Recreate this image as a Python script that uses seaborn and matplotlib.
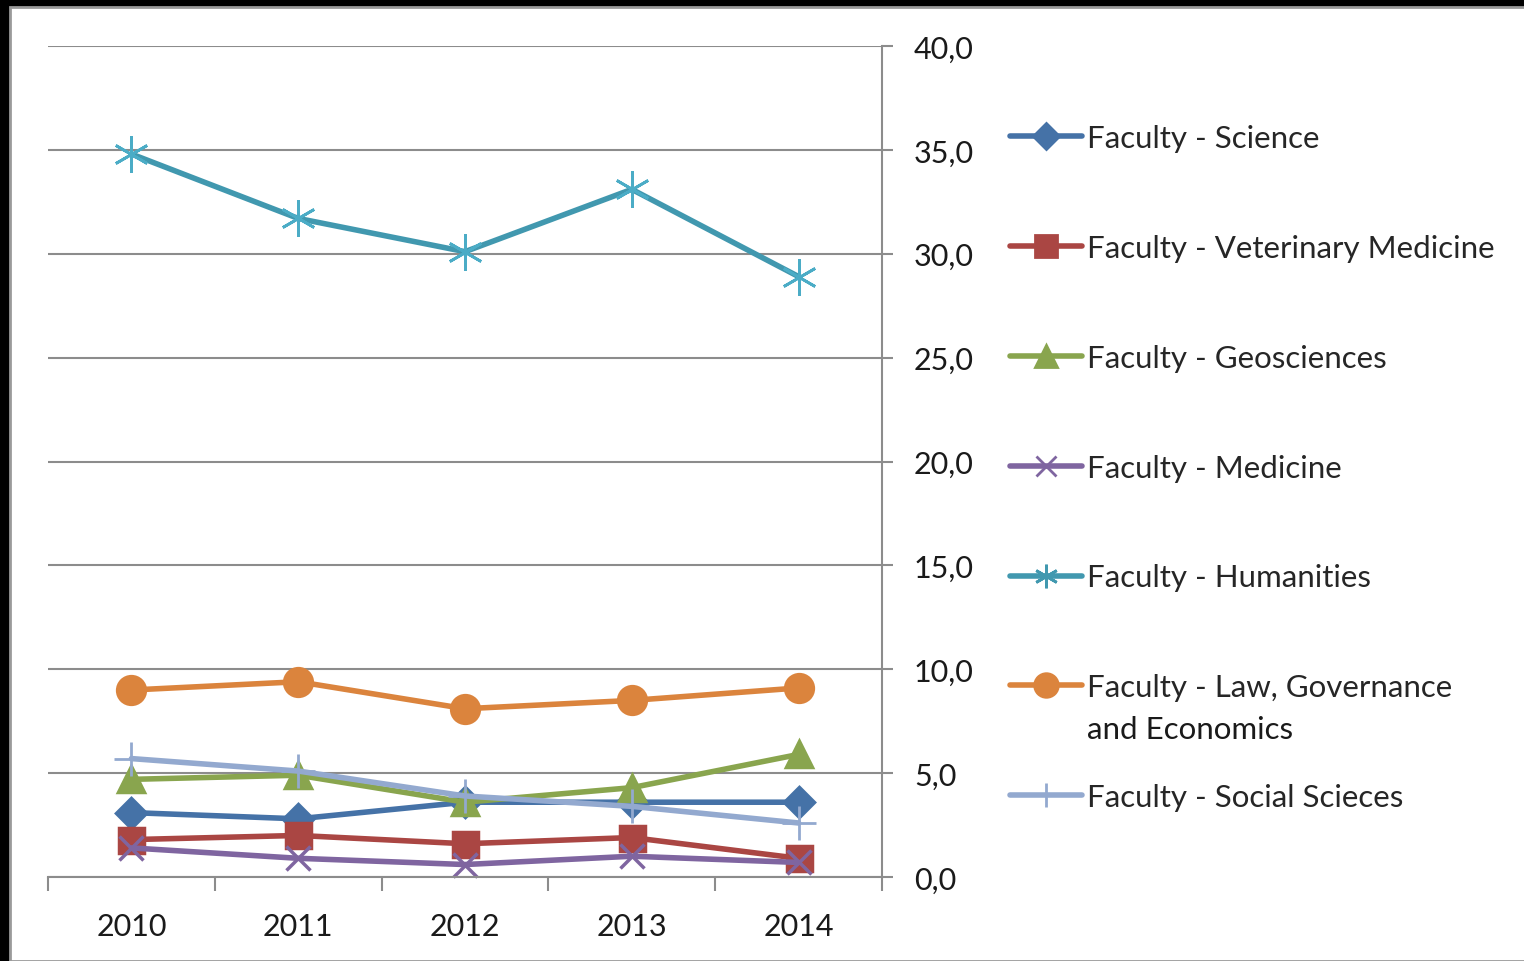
import matplotlib
matplotlib.use("Agg")
import matplotlib.pyplot as plt
import seaborn as sns
import pandas as pd
from matplotlib.patches import Rectangle
from matplotlib.text import Annotation
from matplotlib.ticker import FuncFormatter, FixedLocator

years = ["2010", "2011", "2012", "2013", "2014"]
science = [3.1, 2.8, 3.6, 3.6, 3.6]
veterinary = [1.8, 2.0, 1.6, 1.9, 0.9]
geosciences = [4.7, 4.9, 3.6, 4.3, 5.9]
medicine = [1.4, 0.9, 0.6, 1.0, 0.7]
humanities = [34.8, 31.7, 30.1, 33.1, 28.9]
law = [9.0, 9.4, 8.1, 8.5, 9.1]
social = [5.7, 5.1, 3.9, 3.4, 2.6]

names = ["Faculty - Science", "Faculty - Veterinary Medicine", "Faculty - Geosciences",
         "Faculty - Medicine", "Faculty - Humanities",
         "Faculty - Law, Governance", "Faculty - Social Scieces"]
law_second_line = "and Economics"
series = [science, veterinary, geosciences, medicine, humanities, law, social]
colors = ["#4572A7", "#AA4643", "#89A54E", "#7F65A0", "#4198AF", "#DB843D", "#93A9CF"]
markers = ["D", "s", "^", "x", (6, 2, 0), "o", "+"]
sizes = [15, 18, 19, 17, 26, 20, 24]

sns.set_style("white")
plt.rcParams["font.family"] = ["Lato", "DejaVu Sans"]

fig = plt.figure(figsize=(15.24, 9.62), dpi=100)
fig.patch.set_facecolor("black")
fig.patches.append(Rectangle((10 / 1524, 0), 1, 1 - 8 / 962, transform=fig.transFigure,
                             facecolor="white", edgecolor="#9a9a9a", lw=2, zorder=0))

ax = fig.add_axes([48 / 1524, 1 - 878 / 962, 834 / 1524, 831 / 962])
ax.set_facecolor("none")
ax.set_zorder(3)

for n, vals, c, m, s in zip(names, series, colors, markers, sizes):
    d = pd.DataFrame({"year": years, "value": vals})
    sns.lineplot(data=d, x="year", y="value", color=c, lw=4, marker=m, ms=s,
                 mec=c, mfc=c, mew=2.5, ax=ax, sort=False, clip_on=False)
ax.lines[4].set_markeredgewidth(2)
ax.lines[4].set_markeredgecolor("#4BACC6")
ax.lines[6].set_markeredgewidth(2)

ax.set_xlim(-0.5, 4.5)
ax.set_ylim(0, 40)
ax.set_yticks(range(0, 41, 5))
ax.yaxis.set_major_formatter(FuncFormatter(lambda v, p: f"{v:.1f}".replace(".", ",")))
ax.yaxis.tick_right()
ax.grid(axis="y", color="#8c8c8c", lw=1.5)
ax.grid(axis="x", visible=False)
ax.set_axisbelow(True)

for side in ["left", "top"]:
    ax.spines[side].set_visible(False)
for side in ["right", "bottom"]:
    ax.spines[side].set_color("#8c8c8c")
    ax.spines[side].set_linewidth(1.5)

ax.tick_params(axis="y", which="major", right=True, length=8, width=1.5, color="#8c8c8c",
               labelsize=22, pad=15, labelcolor="#1a1a1a")
ax.tick_params(axis="x", which="major", bottom=False, labelsize=22, pad=22, labelcolor="#1a1a1a")
ax.xaxis.set_minor_locator(FixedLocator([-0.5, 0.5, 1.5, 2.5, 3.5, 4.5]))
ax.tick_params(axis="x", which="minor", bottom=True, length=10, width=1.5, color="#8c8c8c")
ax.set_xlabel("")
ax.set_ylabel("")

handles = [plt.Line2D([], [], color=c, lw=4, marker=m, ms=min(s, 20) * 0.85, mec=c, mfc=c, mew=2)
           for c, m, s in zip(colors, markers, sizes)]
leg = fig.legend(handles, names, loc="upper left", bbox_to_anchor=(1010 / 1524, 1 - 125 / 962),
                 frameon=False, fontsize=22.5, handlelength=2.3, handletextpad=0.15,
                 labelspacing=2.62, borderaxespad=0, borderpad=0)
# second line of the law label, hung under its legend text
extra = Annotation(law_second_line, xy=(0, 0), xycoords=leg.get_texts()[5], xytext=(0, -10),
                   textcoords="offset points", va="top", ha="left", fontsize=22.5,
                   color="#1a1a1a", annotation_clip=False)
extra.set_zorder(10)
fig.add_artist(extra)

fig.savefig("out.png", dpi=100, facecolor=fig.get_facecolor())
